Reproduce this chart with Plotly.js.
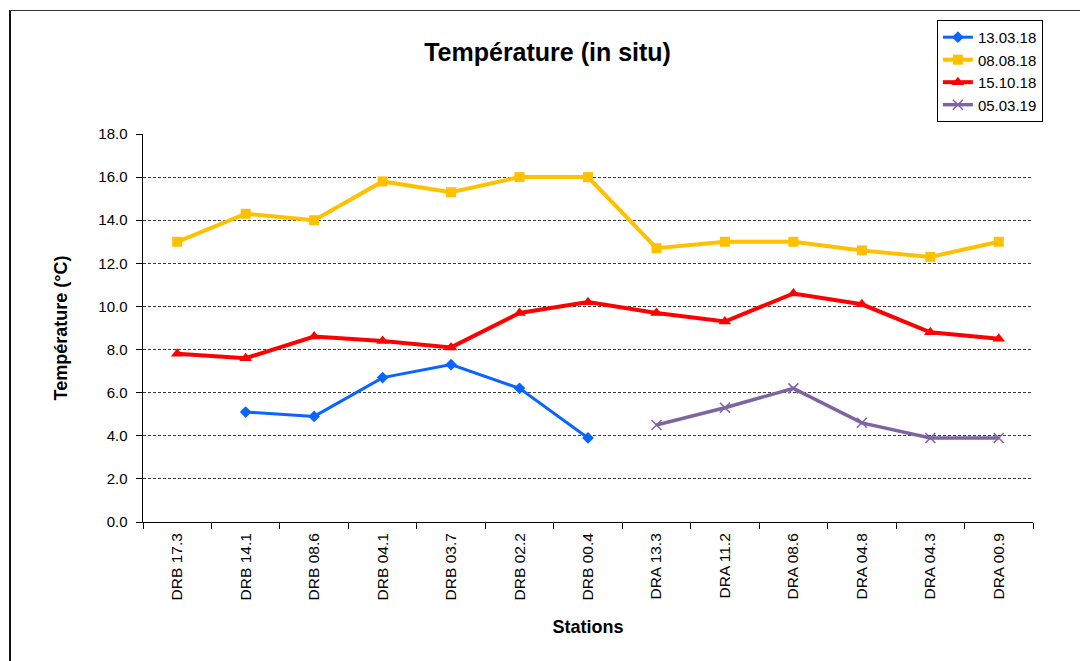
<!DOCTYPE html>
<html>
<head>
<meta charset="utf-8">
<script src="https://cdn.plot.ly/plotly-3.0.1.min.js"></script>
<style>
  html, body { margin: 0; padding: 0; background: #fff; }
  #chart { width: 1080px; height: 661px; }
  #frame { position: absolute; left: 9px; top: 10px; width: 1200px; height: 800px;
           border-top: 1px solid #333; border-left: 2px solid #111; pointer-events: none; }
</style>
</head>
<body>
<div id="chart"></div>
<div id="frame"></div>
<script>
const stations = ["DRB 17.3","DRB 14.1","DRB 08.6","DRB 04.1","DRB 03.7","DRB 02.2","DRB 00.4",
                  "DRA 13.3","DRA 11.2","DRA 08.6","DRA 04.8","DRA 04.3","DRA 00.9"];
const s130318 = [null, 5.1, 4.9, 6.7, 7.3, 6.2, 3.9, null, null, null, null, null, null];
const s080818 = [13.0, 14.3, 14.0, 15.8, 15.3, 16.0, 16.0, 12.7, 13.0, 13.0, 12.6, 12.3, 13.0];
const s151018 = [7.8, 7.6, 8.6, 8.4, 8.1, 9.7, 10.2, 9.7, 9.3, 10.6, 10.1, 8.8, 8.5];
const s050319 = [null, null, null, null, null, null, null, 4.5, 5.3, 6.2, 4.6, 3.9, 3.9];
const seriesNames = ["13.03.18", "08.08.18", "15.10.18", "05.03.19"];
const yTicks = [0, 2, 4, 6, 8, 10, 12, 14, 16, 18];

const sans = "Liberation Sans, Arial, sans-serif";

const traces = [
  {x: stations, y: s130318, name: seriesNames[0], mode: "lines+markers",
   line: {color: "#0A64FF", width: 3}, marker: {symbol: "diamond", size: 9, color: "#0A64FF"}},
  {x: stations, y: s080818, name: seriesNames[1], mode: "lines+markers",
   line: {color: "#FFC000", width: 4}, marker: {symbol: "square", size: 10, color: "#FFC000"}},
  {x: stations, y: s151018, name: seriesNames[2], mode: "lines+markers",
   line: {color: "#FF0000", width: 4}, marker: {symbol: "triangle-up", size: 11, color: "#FF0000"}},
  {x: stations, y: s050319, name: seriesNames[3], mode: "lines+markers",
   line: {color: "#8064A2", width: 3.5},
   marker: {symbol: "x-thin-open", size: 10, color: "#8064A2", line: {width: 1.5, color: "#8064A2"}}}
];

const layout = {
  width: 1080, height: 661,
  margin: {l: 143, r: 47, t: 134, b: 139, pad: 0},
  paper_bgcolor: "#fff", plot_bgcolor: "#fff",
  showlegend: true,
  title: {text: "<b>Température (in situ)</b>", x: 0.507, xanchor: "center", y: 0.921, yanchor: "middle",
          font: {family: sans, size: 25, color: "#000"}},
  xaxis: {
    type: "category", tickson: "boundaries", ticks: "outside", ticklen: 6, tickcolor: "#000",
    tickangle: -90, showline: true, linecolor: "#000", linewidth: 1, showgrid: false,
    tickfont: {family: sans, size: 15.5, color: "#000"}, ticklabelstandoff: 4,
    range: [-0.5, 12.5],
    title: {text: "<b>Stations</b>", font: {family: sans, size: 18, color: "#000"}, standoff: 20}
  },
  yaxis: {
    range: [0, 18], tickvals: yTicks, tickformat: ".1f", ticks: "outside", ticklen: 6, tickcolor: "#000",
    showline: true, linecolor: "#000", linewidth: 1.5, zeroline: false,
    showgrid: true, gridcolor: "#3a3a3a", gridwidth: 1, griddash: "3px,2px",
    tickfont: {family: sans, size: 15, color: "#000"}, ticklabelstandoff: 5,
    title: {text: "<b>Température (°C)</b>", font: {family: sans, size: 18, color: "#000"}, standoff: 26}
  },
  legend: {
    x: 0.892, xanchor: "left", y: 1.294, yanchor: "top",
    bgcolor: "#fff", bordercolor: "#000", borderwidth: 1,
    font: {family: sans, size: 15, color: "#000"},
    tracegroupgap: 0, itemsizing: "trace"
  }
};

Plotly.newPlot("chart", traces, layout, {displayModeBar: false, staticPlot: true});
</script>
</body>
</html>
